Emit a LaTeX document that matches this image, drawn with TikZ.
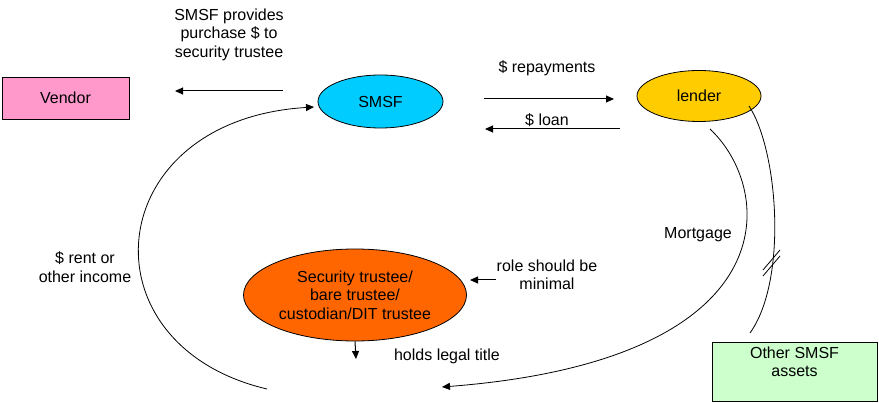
\documentclass[tikz,border=0pt]{standalone}
\usepackage{fontspec}
\setmainfont{Liberation Sans}
\usetikzlibrary{arrows.meta,shapes.geometric}
\definecolor{vpink}{HTML}{FF99CC}
\definecolor{scyan}{HTML}{00CCFF}
\definecolor{lgold}{HTML}{FFCC00}
\definecolor{sorange}{HTML}{FF6600}
\definecolor{ogreen}{HTML}{CCFFCC}
\tikzset{
  lbl/.style={font=\fontsize{16}{18.5}\selectfont, align=center, inner sep=0pt},
  ell/.style={ellipse, draw=black, line width=0.8pt, inner sep=0pt, minimum width=#1},
  flow/.style={line width=1pt, -{Triangle[length=8pt,width=7pt]}},
  thin curve/.style={line width=0.8pt},
}
\begin{document}
\begin{tikzpicture}[x=1pt,y=-1pt]
\useasboundingbox (0,0) rectangle (879,403);
% nodes
\node[draw=black, fill=vpink, line width=0.8pt, minimum width=127pt, minimum height=42pt, inner sep=0pt, lbl] (vendor) at (65.5,98) {Vendor};
\node[ell=125pt, minimum height=53pt, fill=scyan, lbl] (smsf) at (380.5,101.5) {SMSF};
\node[ell=124pt, minimum height=51pt, fill=lgold, lbl] (lender) at (699,96) {lender};
\node[ell=223pt, minimum height=92pt, fill=sorange, lbl] (sec) at (355,295) {Security trustee/\\bare trustee/\\custodian/DIT trustee};
\node[draw=black, fill=ogreen, line width=0.8pt, minimum width=165pt, minimum height=59pt, inner sep=0pt] (other) at (794.5,371.5) {};
\node[lbl, anchor=north] (othertxt) at (other.north) {\rule{0pt}{16.5pt}Other SMSF\\assets};
% labels
\node[lbl] (tprov) at (229,34.5) {SMSF provides\\purchase \$ to\\security trustee};
\node[lbl] (trep) at (547,68) {\$ repayments};
\node[lbl] (tloan) at (547,120.5) {\$ loan};
\node[lbl] (trent) at (85,267) {\$ rent or\\other income};
\node[lbl] (trole) at (547,275) {role should be\\minimal};
\node[lbl] (thold) at (447,356) {holds legal title};
\node[lbl] (tmort) at (698,235) {Mortgage};
% coordinates
\coordinate (a1s) at (283,91); \coordinate (a1e) at (175,91);
\coordinate (a2s) at (484,99); \coordinate (a2e) at (614,99);
\coordinate (a3s) at (620,129); \coordinate (a3e) at (485,129);
\coordinate (a4s) at (496,280); \coordinate (a4e) at (470,280);
\coordinate (a5e) at (356,359);
\coordinate (m1) at (710,129); \coordinate (m2) at (442,387);
\coordinate (r1) at (749,106); \coordinate (r2) at (750,333);
\coordinate (l1) at (267,389); \coordinate (l2) at (314,107);
% connectors
\draw[flow] (a1s) -- (a1e);
\draw[flow] (a2s) -- (a2e);
\draw[flow] (a3s) -- (a3e);
\draw[flow] (a4s) -- (a4e);
\draw[flow] (sec.south) -- (a5e);
\draw[thin curve, -{Triangle[length=8pt,width=7pt]}] (m1) .. controls (775,190) and (790,360) .. (m2);
\draw[thin curve] (r1) .. controls (778,150) and (788,280) .. (r2);
\draw[thin curve, -{Triangle[length=8pt,width=7pt]}] (l1) .. controls (80,345) and (100,120) .. (l2);
% break marks
\coordinate (b1) at (763,270); \coordinate (b2) at (780,250);
\coordinate (b3) at (763,276); \coordinate (b4) at (780,256);
\draw[thin curve] (b1) -- (b2);
\draw[thin curve] (b3) -- (b4);
\end{tikzpicture}
\end{document}
